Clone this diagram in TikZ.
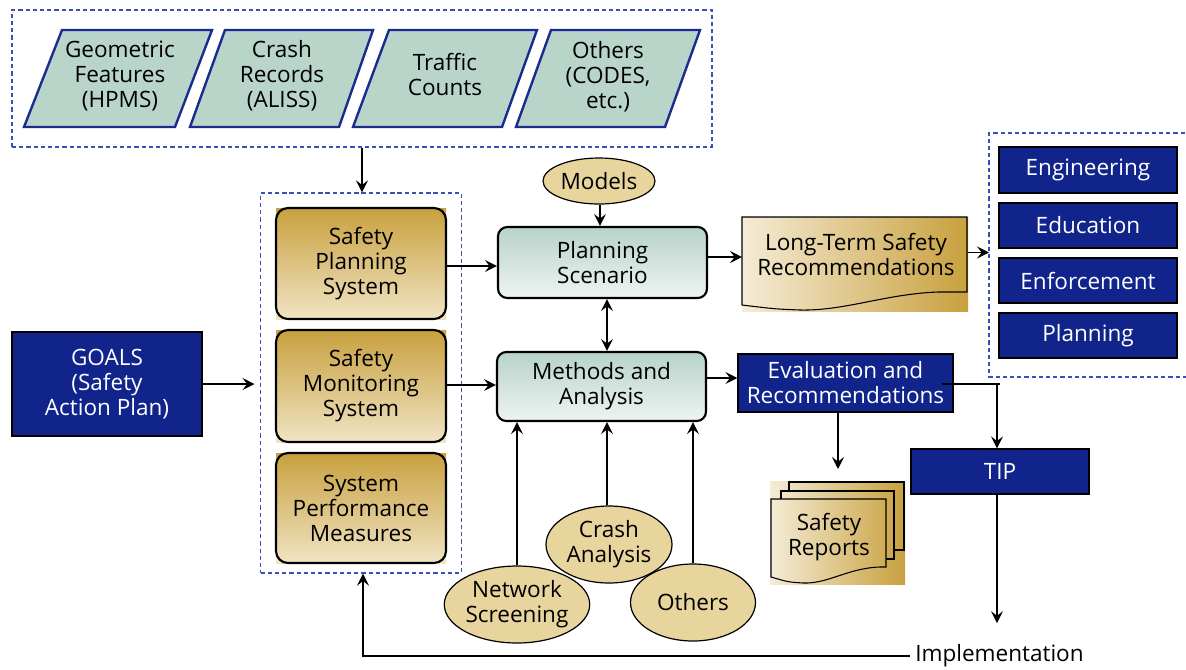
\documentclass[tikz,border=0pt]{standalone}
\usepackage{fontspec}
\setmainfont{Open Sans}
\usetikzlibrary{arrows.meta,shapes.geometric}
\definecolor{navy}{RGB}{16,36,140}
\definecolor{parafill}{RGB}{185,213,202}
\definecolor{parabord}{RGB}{27,44,142}
\definecolor{dashblue}{RGB}{60,80,180}
\definecolor{goldD}{RGB}{200,160,62}
\definecolor{goldL}{RGB}{240,228,196}
\definecolor{creamL}{RGB}{245,236,214}
\definecolor{ellfill}{RGB}{232,213,158}
\definecolor{tealT}{RGB}{183,211,201}
\definecolor{tealB}{RGB}{238,244,241}
\newcommand\pxu{0.75pt}
\begin{document}
\begin{tikzpicture}[x=0.75pt,y=-0.75pt,
  txt/.style={font=\fontsize{16.9}{18.75}\selectfont, align=center, inner sep=0pt},
  arr/.style={-{Stealth[length=9pt,width=9pt,inset=3.5pt]}, line width=0.9pt},
  arrboth/.style={{Stealth[length=9pt,width=9pt,inset=3.5pt]}-{Stealth[length=9pt,width=9pt,inset=3.5pt]}, line width=0.9pt},
  dashbox/.style={draw=dashblue, dash pattern=on 3.2pt off 2.2pt, line width=1pt},
  para/.style={fill=parafill, draw=parabord, line width=1.8pt, line join=miter},
  goldbox/.style={txt, rectangle, rounded corners=9pt, draw=black, line width=1.6pt, top color=goldD, bottom color=goldL},
  tealbox/.style={txt, rectangle, rounded corners=7pt, draw=black, line width=1.6pt, top color=tealT, bottom color=tealB},
  bluebox/.style={txt, rectangle, fill=navy, draw=black, line width=0.9pt, text=white},
  ell/.style={txt, ellipse, fill=ellfill, draw=black, line width=0.9pt},
  doc/.style={draw=black, line width=0.8pt},
]
\useasboundingbox (0,0) rectangle (1186,669);

% ---------- data sources ----------
\node[dashbox, rectangle, minimum width=700*\pxu, minimum height=137*\pxu, inner sep=0pt] (databox) at (362,78.5) {};
\draw[para] (62,30) -- (212,30) -- (175,127) -- (24,127) -- cycle;
\draw[para] (225,30) -- (373,30) -- (339,127) -- (190,127) -- cycle;
\draw[para] (389,30) -- (537,30) -- (502,127) -- (353,127) -- cycle;
\draw[para] (551,30) -- (700,30) -- (665,127) -- (516,127) -- cycle;
\node[txt] (geo) at (120,76) {Geometric\\Features\\(HPMS)};
\node[txt] (crr) at (282,76) {Crash\\Records\\(ALISS)};
\node[txt] (trc) at (445,74) {Traffic\\Counts};
\node[txt] (oco) at (608,77) {Others\\(CODES,\\etc.)};

% ---------- goals ----------
\node[bluebox, minimum width=190*\pxu, minimum height=104*\pxu] (goals) at (107,384) {GOALS\\(Safety\\Action Plan)};

% ---------- system box ----------
\node[dashbox, rectangle, minimum width=201*\pxu, minimum height=380*\pxu, inner sep=0pt] (sysbox) at (361,383) {};
\shade[top color=goldD, bottom color=goldL] (276,208) rectangle (446,319);
\shade[top color=goldD, bottom color=goldL] (276,330) rectangle (446,442);
\shade[top color=goldD, bottom color=goldL] (276,453) rectangle (446,563);
\node[goldbox, minimum width=170*\pxu, minimum height=111*\pxu] (sps) at (361,263.5) {Safety\\Planning\\System};
\node[goldbox, minimum width=170*\pxu, minimum height=112*\pxu] (sms) at (361,386) {Safety\\Monitoring\\System};
\node[goldbox, minimum width=170*\pxu, minimum height=110*\pxu] (spm) at (361,508) {System\\Performance\\Measures};

% ---------- centre ----------
\node[ell, minimum width=112*\pxu, minimum height=46*\pxu] (models) at (599,181) {Models};
\node[tealbox, minimum width=209*\pxu, minimum height=71*\pxu] (ps) at (602.5,262.5) {Planning\\Scenario};
\node[tealbox, minimum width=209*\pxu, minimum height=69*\pxu] (ma) at (601.5,386.5) {Methods and\\Analysis};

\node[ell, minimum width=126*\pxu, minimum height=77*\pxu] (ca) at (609,544.5) {Crash\\Analysis};
\node[ell, minimum width=135*\pxu, minimum height=77*\pxu] (ns) at (517,604.5) {Network\\Screening};
\node[ell, minimum width=125*\pxu, minimum height=77*\pxu] (oth) at (693,602.5) {Others};

% ---------- long-term recommendations ----------
\shade[left color=creamL, right color=goldD] (742,217) rectangle (968,311);
\draw[doc] (742,217) -- (967,217) -- (967,292) -- (938,292)
  .. controls (885,294) and (845,311) .. (800,310)
  .. controls (775,309) .. (742,305) -- cycle;
\node[txt] (ltsr) at (856,254) {Long-Term Safety\\Recommendations};
\coordinate (ltW) at (742,257);
\coordinate (ltE) at (968,252.5);

% ---------- action box ----------
\draw[dashbox] (1192,133) -- (989,133) -- (989,377) -- (1192,377);
\coordinate (actbox) at (989,252.5);
\node[bluebox, minimum width=178*\pxu, minimum height=46*\pxu] (eng) at (1088,170) {Engineering};
\node[bluebox, minimum width=178*\pxu, minimum height=45*\pxu] (edu) at (1088,225.5) {Education};
\node[bluebox, minimum width=178*\pxu, minimum height=45*\pxu] (enf) at (1088,280.5) {Enforcement};
\node[bluebox, minimum width=178*\pxu, minimum height=45*\pxu] (pla) at (1088,335.5) {Planning};

% ---------- evaluation, TIP ----------
\node[bluebox, minimum width=215*\pxu, minimum height=58*\pxu] (eval) at (845.5,383) {Evaluation and\\Recommendations};
\coordinate (evalR) at (942,384);
\node[bluebox, minimum width=178*\pxu, minimum height=45*\pxu] (tip) at (1000,471.5) {TIP};

% ---------- safety reports ----------
\shade[left color=creamL, right color=goldD] (770,481) rectangle (905,584);
\draw[doc] (789,482) rectangle (904,550);
\begin{scope}
  \clip (781,491) rectangle (894,559);
  \shade[left color=creamL, right color=goldD] (770,481) rectangle (905,584);
\end{scope}
\draw[doc] (781,491) rectangle (894,559);
\begin{scope}
  \clip (771,499) -- (886,499) -- (886,567) .. controls (850,566) and (830,584) .. (803,583) .. controls (788,582) .. (771,577) -- cycle;
  \shade[left color=creamL, right color=goldD] (770,481) rectangle (905,584);
\end{scope}
\draw[doc] (771,499) -- (886,499) -- (886,567) .. controls (850,566) and (830,584) .. (803,583) .. controls (788,582) .. (771,577) -- cycle;
\node[txt] (sr) at (829,537) {Safety\\Reports};
\coordinate (srTop) at (838,469);

% ---------- implementation ----------
\node[txt, anchor=west] (impl) at (915,656) {Implementation};

% ---------- connectors ----------
\draw[arr] (databox.south) -- (databox.south |- sysbox.north);
\draw[arr, shorten >=4pt] (goals.east) -- (goals.east -| sysbox.west);
\draw[arr] (sps.east |- 0,266) -- (ps.west |- 0,266);
\draw[arr] (sms.east |- 0,385) -- (ma.west |- 0,385);
\draw[arr] (models.south -| 600,0) -- (ps.north -| 600,0);
\draw[arrboth] (ps.south -| 607,0) -- (ma.north -| 607,0);
\draw[arr] (ps.east |- ltW) -- (ltW);
\draw[arr] (ltE) -- (actbox);
\draw[arr] (ma.east |- 0,378) -- (eval.west |- 0,378);
\draw[arr] (eval.south -| srTop) -- (srTop);
\draw[line width=0.9pt] (evalR) -- (evalR -| tip.north);
\draw[arr] (evalR -| 997,0) -- (tip.north -| 997,0);
\draw[arr, shorten >=16pt] (tip.south -| 997,0) -- (impl.north -| 997,0);
\draw[arr] ([xshift=-4pt]impl.west) -| (sysbox.south -| 363,0);
\draw[arr] (ns.north) -- (ns.north |- ma.south);
\draw[arr] (ca.north -| 607,0) -- (ma.south -| 607,0);
\draw[arr] (oth.north) -- (oth.north |- ma.south);
\end{tikzpicture}
\end{document}
